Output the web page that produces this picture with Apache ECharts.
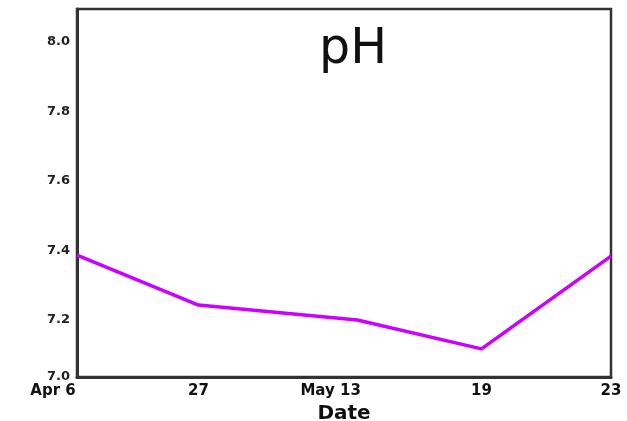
<!DOCTYPE html>
<html><head><meta charset="utf-8">
<script src="https://cdn.jsdelivr.net/npm/echarts@6/dist/echarts.min.js"></script>
<style>html,body{margin:0;padding:0;background:#fff}#c{width:627px;height:421px}</style>
</head><body><div id="c"></div>
<script>
// x positions are in "sample slot" units (axis runs 0..4)
const tickLabels = ['Apr 6', '27', 'May 13', '19', '23'];
const tickPositions = [0, 0.91, 1.90, 3.03, 4.0];
const samplePositions = [0, 0.91, 2.10, 3.03, 4.0];
const phValues = [7.387, 7.243, 7.200, 7.117, 7.384];
const yTickValues = [7.036, 7.2, 7.4, 7.6, 7.8, 8.0];
const yMin = 7.036, yMax = 8.095;

const labelFont = { color: '#111', fontFamily: 'DejaVu Sans', fontWeight: 'bold', fontSize: 15 };

const chart = echarts.init(document.getElementById('c'));
chart.setOption({
  animation: false,
  backgroundColor: '#fff',
  title: {
    text: 'pH', left: 348, top: 21, textAlign: 'center',
    textStyle: { fontFamily: 'DejaVu Sans', fontSize: 49, fontWeight: 'normal', color: '#111' }
  },
  grid: { left: 77, right: 16, top: 9, bottom: 44, outerBoundsMode: 'none', show: true, borderColor: '#333', borderWidth: 2.5, backgroundColor: 'transparent' },
  xAxis: {
    type: 'value', min: 0, max: 4,
    axisLine: { show: true, lineStyle: { color: '#333', width: 3 } },
    axisTick: { show: false },
    splitLine: { show: false },
    axisLabel: {
      customValues: tickPositions,
      formatter: v => {
        const i = tickPositions.indexOf(v);
        if (i < 0) return '';
        return i === 0 ? '{first|' + tickLabels[i] + '}' : '{n|' + tickLabels[i] + '}';
      },
      rich: {
        first: Object.assign({ padding: [0, 48, 0, 0] }, labelFont),
        n: Object.assign({}, labelFont)
      },
      margin: 7
    },
    name: 'Date', nameLocation: 'middle', nameGap: 27,
    nameTextStyle: { color: '#111', fontFamily: 'DejaVu Sans', fontWeight: 'bold', fontSize: 20 }
  },
  yAxis: {
    type: 'value', min: yMin, max: yMax,
    axisLine: { show: true, lineStyle: { color: '#333', width: 3 } },
    axisTick: { show: false },
    splitLine: { show: false },
    axisLabel: {
      customValues: yTickValues,
      formatter: v => v.toFixed(1),
      color: '#222', fontFamily: 'DejaVu Sans', fontWeight: 'bold', fontSize: 13, margin: 7
    }
  },
  series: [{
    type: 'line', symbol: 'none',
    data: samplePositions.map((x, i) => [x, phValues[i]]),
    lineStyle: { color: '#cc00ff', width: 3.5 }
  }]
});
</script></body></html>
